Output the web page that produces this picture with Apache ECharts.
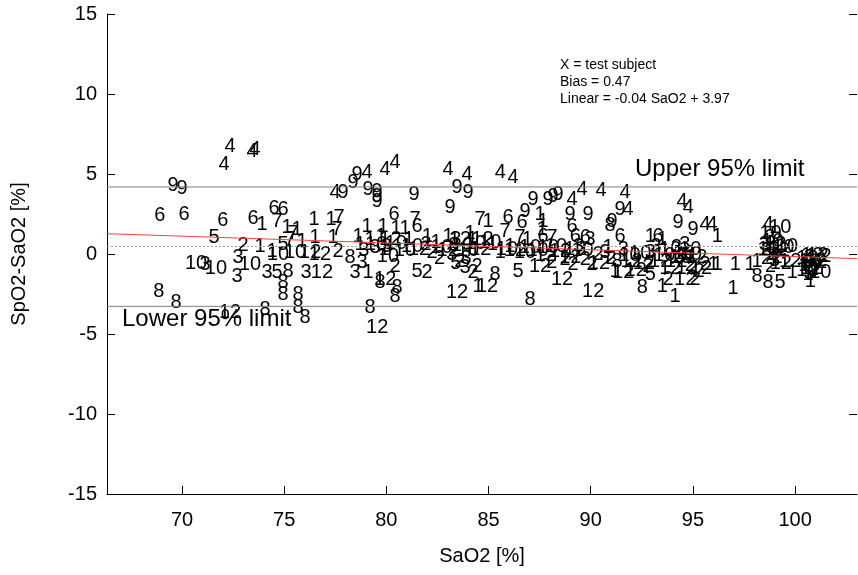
<!DOCTYPE html>
<html><head><meta charset="utf-8">
<script src="https://cdn.jsdelivr.net/npm/echarts@6/dist/echarts.min.js"></script>
<style>html,body{margin:0;padding:0;background:#fff}#c{width:858px;height:575px}</style>
</head><body><div id="c"></div>
<script>
const subjects = [8,8,6,9,9,6,6,5,4,4,10,3,10,3,12,2,4,4,6,1,6,6,7,1,1,5,10,10,3,3,5,8,8,8,8,8,8,8,3,12,3,8,12,10,12,2,1,1,7,1,1,7,7,1,1,7,1,1,4,9,9,9,4,9,9,9,9,4,4,9,4,4,9,9,9,6,7,6,1,1,1,1,1,1,3,1,10,10,2,1,1,12,10,3,1,10,10,2,2,3,1,12,8,8,8,8,12,5,2,12,3,2,1,3,2,4,4,9,9,9,9,4,4,4,9,1,1,6,6,9,9,7,1,6,6,6,3,1,7,6,7,7,1,10,10,2,12,8,5,12,12,2,2,2,8,12,10,12,12,1,10,2,2,8,1,12,5,8,1,1,12,2,2,2,1,4,9,4,9,8,6,4,4,9,9,4,4,1,6,1,1,1,12,10,3,12,10,12,10,10,3,2,12,1,1,1,1,1,8,8,5,1,4,10,3,12,10,3,2,2,12,12,10,2,1,1,10,2,
  10,1,12,10,1,3,12,1,10,12,3,10,1,12,2,3,5,12,3,
  1,10,12,1,10,12,10,2,12,3,10,12,3,
  2,3,10,12,3,10,12,3,10,12,10,3,2,12,12,2,
  3,12,10,2,12,10,3,12,2,10,
  12,10,12,2,3,12,10,5,2,12];
const sao2 = [68.87,69.71,68.92,69.56,70.0,70.1,72.0,71.57,72.06,72.35,70.69,71.13,71.66,72.69,72.35,72.99,73.43,73.57,73.48,73.92,74.5,74.94,74.65,73.82,74.41,74.94,74.7,73.33,72.74,74.16,74.65,75.19,74.94,74.94,75.68,74.06,75.68,76.02,76.07,76.85,78.47,78.22,76.27,75.53,76.75,77.64,75.14,75.63,75.43,76.46,77.29,77.68,77.59,76.51,77.39,75.29,75.87,78.61,77.49,77.88,78.37,78.57,79.06,79.1,79.54,79.54,79.54,79.94,80.43,81.36,83.02,83.95,83.46,84.0,83.12,80.38,81.4,81.5,79.06,79.84,80.47,80.92,78.71,79.2,79.45,79.74,80.47,81.26,81.94,82.43,83.02,83.6,83.7,83.3,84.2,84.34,80.08,80.43,82.24,78.81,79.1,79.94,79.69,80.52,80.43,79.2,79.55,81.5,81.99,83.46,83.85,84.24,84.49,83.2,83.6,85.57,86.2,87.18,87.91,88.16,88.4,89.58,89.09,90.51,86.79,87.52,87.67,85.96,86.64,88.99,89.87,84.59,84.98,89.09,89.24,89.73,89.97,87.62,88.11,87.67,85.81,86.54,85.57,86.79,87.03,84.44,84.93,85.32,86.45,87.52,88.6,88.75,89.14,89.73,87.03,90.12,87.91,88.5,89.24,86.05,85.08,90.07,90.36,91.29,91.19,91.59,92.91,92.52,93.5,94.13,94.62,95.11,93.79,95.6,96.0,91.68,91.44,91.83,91.05,90.95,91.44,94.47,94.77,94.28,95.01,95.6,95.94,92.91,93.3,93.5,96.19,90.85,92.0,92.42,92.91,93.4,93.89,94.18,94.57,94.87,94.38,94.87,95.16,96.19,97.07,96.97,97.8,98.14,98.14,98.68,99.27,99.86,98.68,99.27,98.78,99.03,99.42,98.6,99.12,98.8,99.76,100.84,100.74,100.89,100.64,100.74,101.23,101.52,
  79.5,79.9,80.2,80.9,81.1,80.0,81.6,82.0,82.7,83.0,83.4,84.0,84.1,84.6,82.6,83.9,83.4,84.7,78.9,
  85.2,85.9,86.3,86.9,87.4,87.8,88.3,88.1,89.0,89.4,89.6,90.4,90.7,
  91.0,91.6,91.9,92.6,93.2,93.6,93.9,94.2,94.4,94.7,94.9,94.6,95.3,95.4,92.2,92.8,
  98.5,98.7,98.9,98.9,99.2,99.6,99.0,99.3,98.6,98.8,
  100.6,100.7,100.8,100.6,100.7,101.0,100.6,100.7,101.3,101.1];
const diffs = [-2.36,-3.04,2.39,4.27,4.08,2.46,2.08,1.02,5.58,6.71,-0.61,-0.67,-0.92,-1.42,-3.67,0.52,6.39,6.52,2.21,1.83,2.83,2.77,2.02,0.46,0.14,0.58,-0.04,-0.67,-0.23,-1.17,-1.17,-1.11,-1.79,-2.54,-2.54,-3.48,-3.36,-3.98,-1.17,-1.17,-1.17,-0.23,0.08,0.08,-0.04,0.14,1.64,1.52,1.27,2.14,2.14,2.27,1.52,1.02,1.02,0.89,0.77,1.08,3.83,3.83,4.46,4.96,5.08,4.02,3.89,3.58,3.27,5.27,5.71,3.71,5.27,4.96,4.14,3.83,2.89,2.46,2.14,1.71,1.71,1.71,1.58,1.58,0.58,0.89,0.39,1.08,0.64,0.46,0.58,0.71,1.08,0.89,0.52,0.52,0.89,0.64,-0.17,-0.79,0.08,-0.54,-1.17,-1.61,-1.79,-2.11,-2.67,-3.36,-4.61,-1.11,-1.17,-2.42,-0.86,-1.17,-2.04,-0.04,-0.48,5.08,4.77,3.39,3.39,3.58,3.71,4.02,3.39,3.96,2.64,2.46,2.02,2.27,1.96,2.46,2.46,2.14,2.02,1.71,1.08,1.02,0.89,1.52,1.02,1.08,1.39,1.02,0.08,0.08,0.39,-0.79,-2.04,-1.29,-1.11,-0.79,-1.61,-0.36,-0.67,-0.36,-2.86,-2.36,0.39,0.14,0.27,0.46,0.71,-0.67,-0.04,-0.48,-1.11,-1.17,-1.29,-2.11,-2.04,-2.66,-1.61,-1.61,-1.61,-0.67,-0.67,3.83,2.77,2.77,2.02,1.77,1.08,3.27,2.89,1.96,1.52,1.83,1.83,1.08,1.08,0.89,1.08,0.39,-0.48,0.02,0.08,-0.48,0.27,-0.48,0.02,0.27,-0.23,-0.73,-0.23,-0.67,-0.67,-2.17,-0.67,-0.48,-1.42,-1.79,-1.79,-1.17,1.83,1.64,1.02,0.58,0.39,0.2,-0.23,-0.8,-0.48,-0.11,-0.48,-0.98,-1.29,-1.73,-1.17,-0.17,
  0.6,0.3,0.9,0.2,0.9,0.5,0.3,1.1,0.4,0.2,0.9,0.2,1.3,0.3,-0.3,-0.3,-0.6,0.9,0.2,
  0.6,0.3,0.2,0.9,0.2,-0.1,0.5,-0.5,-0.2,0.5,0.2,-0.6,0.1,
  -0.3,0.3,-0.1,-0.6,0.5,-0.1,-0.9,0.4,-0.2,-0.9,0.0,0.6,-1.1,-0.9,-1.0,-0.8,
  0.6,0.3,0.8,0.0,0.2,0.5,-0.4,-0.6,-0.3,1.3,
  -0.3,-0.7,-0.9,-0.5,-0.2,-0.4,-1.0,-1.2,-0.5,-0.1];

const xTicks = [70, 75, 80, 85, 90, 95, 100];
const xRange = [66.33, 103.03];
const biasValue = 0.47;
const upperLimit = 4.19;
const lowerLimit = -3.27;
const fitLineX = [66.33, 103.03];
const fitLineY = [1.27, -0.29];
const notes = ['X = test subject', 'Bias = 0.47', 'Linear = -0.04 SaO2 + 3.97'];

const FONT = 'Liberation Sans, Arial, Helvetica, sans-serif';
const chart = echarts.init(document.getElementById('c'), null, {renderer: 'canvas'});

const points = sao2.map((x, i) => [x, diffs[i], subjects[i]]);
const hline = v => [[xRange[0], v], [xRange[1], v]];

chart.setOption({
  backgroundColor: '#fff',
  animation: false,
  grid: {left: 107, top: 14, width: 750, height: 480, containLabel: false},
  xAxis: [{
    type: 'value', min: xRange[0], max: xRange[1],
    name: 'SaO2 [%]', nameLocation: 'middle', nameGap: 52,
    nameTextStyle: {fontFamily: FONT, fontSize: 20, color: '#000'},
    axisLine: {show: true, onZero: false, lineStyle: {color: '#000', width: 1}},
    axisTick: {show: true, inside: true, length: 8, customValues: xTicks, lineStyle: {color: '#000'}},
    axisLabel: {customValues: xTicks, fontFamily: FONT, fontSize: 20, color: '#000', margin: 16},
    splitLine: {show: false}
  }],
  yAxis: [{
    type: 'value', min: -15, max: 15, interval: 5,
    name: 'SpO2-SaO2 [%]', nameLocation: 'middle', nameGap: 78, nameRotate: 90,
    nameTextStyle: {fontFamily: FONT, fontSize: 20, color: '#000'},
    axisLine: {show: true, onZero: false, lineStyle: {color: '#000', width: 1}},
    axisTick: {show: true, inside: true, length: 8, lineStyle: {color: '#000'}},
    axisLabel: {fontFamily: FONT, fontSize: 20, color: '#000', margin: 10},
    splitLine: {show: false}
  }, {
    type: 'value', min: -15, max: 15, interval: 5, position: 'right',
    axisLine: {show: false, onZero: false},
    axisTick: {show: true, inside: true, length: 8, lineStyle: {color: '#000'}},
    axisLabel: {show: false},
    splitLine: {show: false}
  }],
  series: [
    {type: 'line', data: hline(upperLimit), symbol: 'none', lineStyle: {color: '#808080', width: 1}, silent: true},
    {type: 'line', data: hline(lowerLimit), symbol: 'none', lineStyle: {color: '#808080', width: 1}, silent: true},
    {type: 'line', data: hline(biasValue), symbol: 'none', lineStyle: {color: '#999', width: 1, type: [2, 2]}, silent: true},
    {type: 'line', data: fitLineX.map((x, i) => [x, fitLineY[i]]), symbol: 'none', lineStyle: {color: '#ff4040', width: 1}, silent: true},
    {
      type: 'scatter', data: points, symbolSize: 0, itemStyle: {color: '#000', opacity: 1},
      label: {show: true, position: 'inside', formatter: p => String(p.value[2]),
        fontFamily: FONT, fontSize: 20, color: '#000', opacity: 1, textBorderWidth: 0,
        align: 'center', verticalAlign: 'middle'},
      labelLayout: {hideOverlap: false},
      emphasis: {disabled: true},
      silent: true
    }
  ],
  graphic: [
    {type: 'text', left: 560, top: 57, style: {text: notes.join('\n'), font: '14px ' + FONT, fill: '#000', lineHeight: 17}},
    {type: 'text', left: 635, top: 157, style: {text: 'Upper 95% limit', font: '24px ' + FONT, fill: '#000'}},
    {type: 'text', left: 122, top: 307, style: {text: 'Lower 95% limit', font: '24px ' + FONT, fill: '#000'}}
  ]
});
</script>
</body></html>
